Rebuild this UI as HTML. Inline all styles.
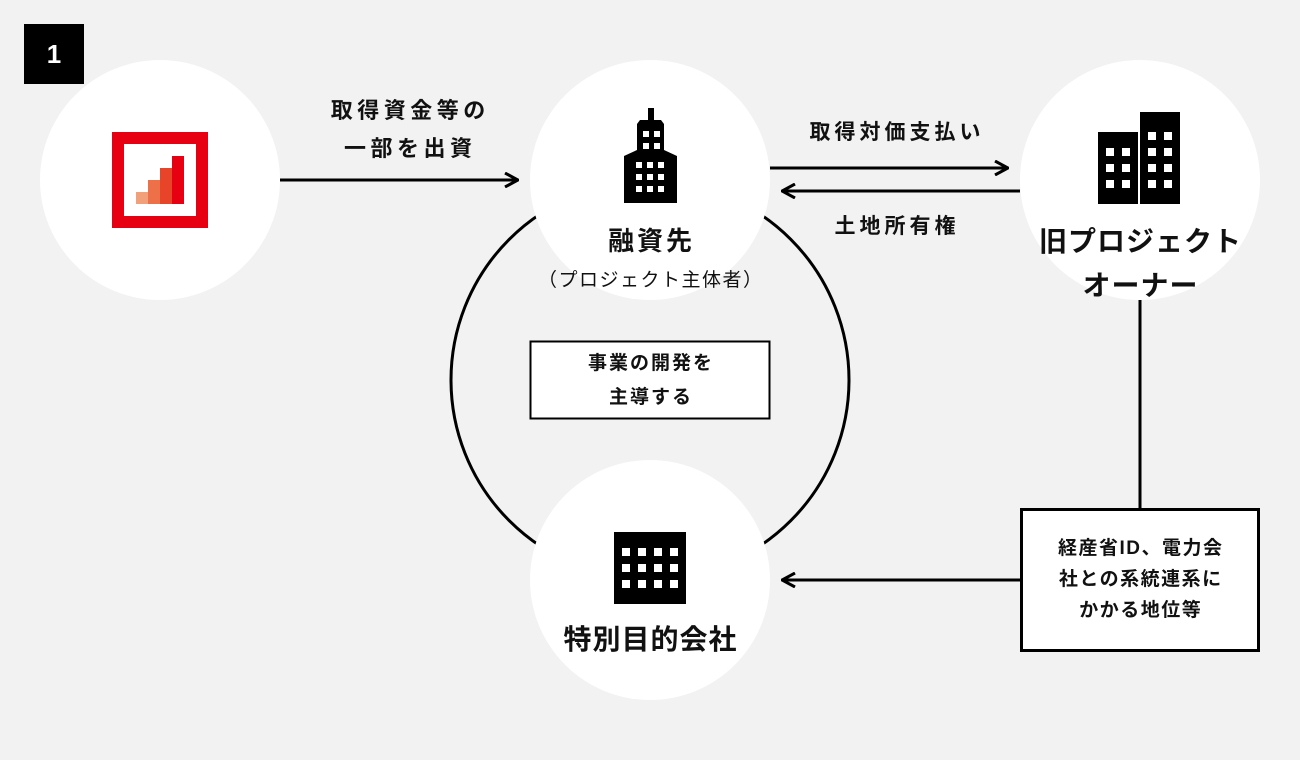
<!DOCTYPE html>
<html><head><meta charset="utf-8"><style>
body{margin:0;width:1300px;height:760px;background:#f2f2f2;overflow:hidden;font-family:"Liberation Sans","Noto Sans CJK JP",sans-serif;}
.t{position:absolute;font-weight:bold;color:#111;text-align:center;white-space:nowrap;box-sizing:border-box;}
</style></head><body>
<svg width="1300" height="760" style="position:absolute;left:0;top:0">
<defs>
<marker id="ah" viewBox="0 0 16 16" markerWidth="16" markerHeight="16" refX="15" refY="8" orient="auto" markerUnits="userSpaceOnUse"><path d="M2,1 L15,8 L2,15" fill="none" stroke="#000" stroke-width="3"/></marker></defs>
<circle cx="650" cy="380" r="199" fill="none" stroke="#000" stroke-width="3"/>
<circle cx="160" cy="180" r="120" fill="#fff"/>
<circle cx="650" cy="180" r="120" fill="#fff"/>
<circle cx="1140" cy="180" r="120" fill="#fff"/>
<circle cx="650" cy="580" r="120" fill="#fff"/>
<rect x="24" y="24" width="60" height="60" fill="#000"/>
<line x1="280" y1="180" x2="518" y2="180" stroke="#000" stroke-width="3" marker-end="url(#ah)"/>
<line x1="770" y1="168" x2="1008" y2="168" stroke="#000" stroke-width="3" marker-end="url(#ah)"/>
<line x1="1020" y1="191" x2="782" y2="191" stroke="#000" stroke-width="3" marker-end="url(#ah)"/>
<line x1="1140" y1="300" x2="1140" y2="510" stroke="#000" stroke-width="3"/>
<line x1="1020" y1="580" x2="782" y2="580" stroke="#000" stroke-width="3" marker-end="url(#ah)"/>
<rect x="1021.5" y="509.5" width="237" height="141" fill="#fff" stroke="#000" stroke-width="3"/>
<rect x="530.5" y="341.5" width="239" height="77" fill="#fff" stroke="#000" stroke-width="2"/>
<rect x="112" y="132" width="96" height="96" fill="#e60012"/>
<rect x="124" y="144" width="72" height="72" fill="#fff"/>
<rect x="136" y="192" width="12" height="12" fill="#f2a07a"/>
<rect x="148" y="180" width="12" height="24" fill="#ee7048"/>
<rect x="160" y="168" width="12" height="36" fill="#e84429"/>
<rect x="172" y="156" width="12" height="48" fill="#e60012"/>
<rect x="648" y="108" width="6" height="14" fill="#000"/>
<path d="M640,120 H661 L664,124 V150 L677,156 V203 H624 V156 L637,150 V124 Z" fill="#000"/>
<g fill="#fff"><rect x="643" y="131" width="6" height="6"/><rect x="654" y="131" width="6" height="6"/><rect x="643" y="143" width="6" height="6"/><rect x="654" y="143" width="6" height="6"/>
<rect x="636" y="162" width="6" height="6"/><rect x="647" y="162" width="6" height="6"/><rect x="658" y="162" width="6" height="6"/>
<rect x="636" y="174" width="6" height="6"/><rect x="647" y="174" width="6" height="6"/><rect x="658" y="174" width="6" height="6"/>
<rect x="636" y="186" width="6" height="6"/><rect x="647" y="186" width="6" height="6"/><rect x="658" y="186" width="6" height="6"/></g>
<rect x="1098" y="132" width="40" height="72" fill="#000"/>
<rect x="1140" y="112" width="40" height="92" fill="#000"/>
<g fill="#fff"><rect x="1106" y="148" width="8" height="8"/><rect x="1122" y="148" width="8" height="8"/><rect x="1106" y="164" width="8" height="8"/><rect x="1122" y="164" width="8" height="8"/><rect x="1106" y="180" width="8" height="8"/><rect x="1122" y="180" width="8" height="8"/>
<rect x="1148" y="132" width="8" height="8"/><rect x="1164" y="132" width="8" height="8"/><rect x="1148" y="148" width="8" height="8"/><rect x="1164" y="148" width="8" height="8"/><rect x="1148" y="164" width="8" height="8"/><rect x="1164" y="164" width="8" height="8"/><rect x="1148" y="180" width="8" height="8"/><rect x="1164" y="180" width="8" height="8"/></g>
<rect x="614" y="532" width="72" height="72" fill="#000"/>
<g fill="#fff"><rect x="622" y="548" width="8" height="8"/><rect x="638" y="548" width="8" height="8"/><rect x="654" y="548" width="8" height="8"/><rect x="670" y="548" width="8" height="8"/>
<rect x="622" y="564" width="8" height="8"/><rect x="638" y="564" width="8" height="8"/><rect x="654" y="564" width="8" height="8"/><rect x="670" y="564" width="8" height="8"/>
<rect x="622" y="580" width="8" height="8"/><rect x="638" y="580" width="8" height="8"/><rect x="654" y="580" width="8" height="8"/><rect x="670" y="580" width="8" height="8"/></g>
</svg>
<div class="t" style="left:24px;top:36px;width:60px;font-size:26px;color:#fff;line-height:36px;">1</div>
<div class="t" style="left:296px;top:92px;width:224px;font-size:22px;line-height:38px;letter-spacing:4.5px;padding-left:4.5px;">取得資金等の<br>一部を出資</div>
<div class="t" style="left:770px;top:118px;width:250px;font-size:21px;line-height:30px;letter-spacing:4px;padding-left:4px;">取得対価支払い</div>
<div class="t" style="left:770px;top:212px;width:250px;font-size:21px;line-height:30px;letter-spacing:4px;padding-left:4px;">土地所有権</div>
<div class="t" style="left:550px;top:222px;width:200px;font-size:26px;line-height:38px;letter-spacing:3px;padding-left:3px;">融資先</div>
<div class="t" style="left:500px;top:266px;width:300px;font-size:19px;font-weight:normal;line-height:30px;letter-spacing:1.5px;padding-left:1.5px;">（プロジェクト主体者）</div>
<div class="t" style="left:1000px;top:220px;width:280px;font-size:28px;line-height:44px;letter-spacing:1px;padding-left:1px;">旧プロジェクト<br>オーナー</div>
<div class="t" style="left:530px;top:347px;width:240px;font-size:19px;line-height:34px;letter-spacing:2px;padding-left:2px;">事業の開発を<br>主導する</div>
<div class="t" style="left:520px;top:619px;width:260px;font-size:28px;line-height:42px;letter-spacing:1px;padding-left:1px;">特別目的会社</div>
<div class="t" style="left:1022px;top:533px;width:236px;font-size:19px;line-height:31px;letter-spacing:1.5px;padding-left:1.5px;">経産省ID、電力会<br>社との系統連系に<br>かかる地位等</div>
</body></html>
